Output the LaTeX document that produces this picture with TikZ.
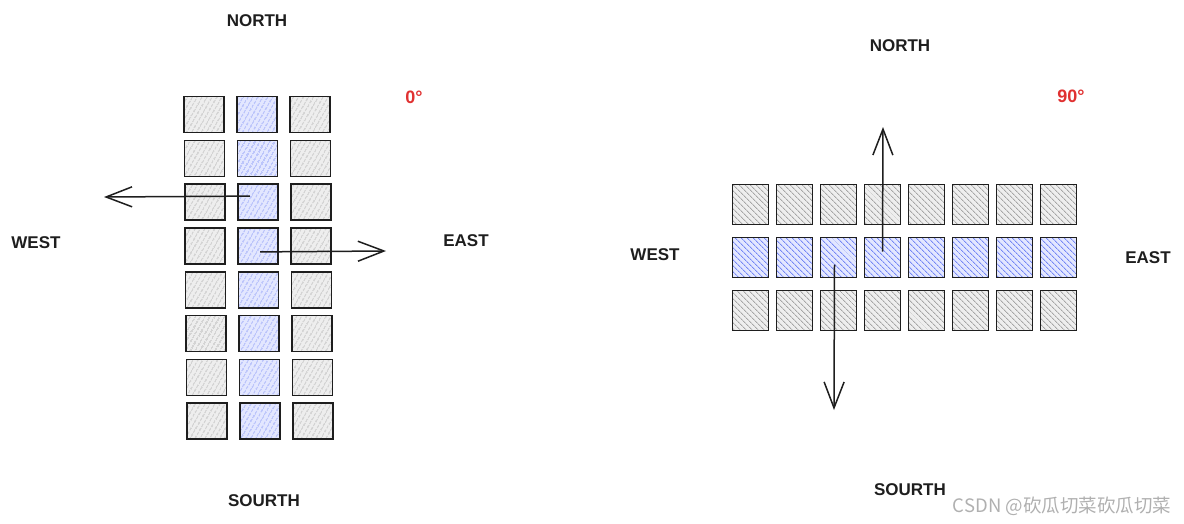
\documentclass[tikz,border=0pt]{standalone}
\usepackage{fontspec}
\setmainfont{Liberation Sans}
\newfontfamily\cjkfont{Noto Sans CJK SC}
\usetikzlibrary{arrows.meta,patterns.meta}
\definecolor{ink}{HTML}{1E1E1E}
\definecolor{gline}{HTML}{A6A6A6}
\definecolor{gtint}{HTML}{EEEEEE}
\definecolor{bline}{HTML}{7587F5}
\definecolor{btint}{HTML}{E3E7FF}
\definecolor{degred}{HTML}{E03131}
\definecolor{wmark}{HTML}{B0B0B0}
\tikzset{
  cell/.style={draw=ink, line width=1.6pt, inner sep=0pt},
  lcell/.style={cell, minimum width=40pt, minimum height=36pt},
  rcell/.style={cell, minimum width=36pt, minimum height=40pt},
  lg/.style={lcell, preaction={fill=gtint}, pattern={Lines[angle=60,distance=4pt,line width=0.9pt]}, pattern color=gline},
  lb/.style={lcell, preaction={fill=btint}, pattern={Lines[angle=60,distance=4pt,line width=0.9pt]}, pattern color=bline},
  rg/.style={rcell, preaction={fill=gtint}, pattern={Lines[angle=-45,distance=4pt,line width=0.9pt]}, pattern color=gline},
  rb/.style={rcell, preaction={fill=btint}, pattern={Lines[angle=-45,distance=4pt,line width=0.9pt]}, pattern color=bline},
  lbl/.style={font=\fontsize{17}{20}\selectfont\bfseries, text=ink, inner sep=0pt},
  deg/.style={font=\fontsize{18}{20}\selectfont\bfseries, text=degred, inner sep=0pt},
  arr/.style={draw=ink, line width=1.5pt, -{Straight Barb[length=26pt,width=20pt,line width=1.5pt]}},
}
\begin{document}
\begin{tikzpicture}[x=1pt,y=-1pt]
\useasboundingbox (0,0) rectangle (1184,523);
% ---------- left (0 degrees) ----------
\foreach \r in {1,...,8}{
  \foreach \c/\s in {1/lg,2/lb,3/lg}{
    \node[\s] (L-\r-\c) at ({204+53*(\c-1)+0.4*(\r-1)},{114.5+43.8*(\r-1)}) {};
  }
}
\node[lbl] (lnorth) at (257,21) {NORTH};
\node[lbl] (lsouth) at (264,501) {SOURTH};
\node[lbl] (lwest) at (36,243) {WEST};
\node[lbl] (least) at (466,241) {EAST};
\node[deg] (ldeg) at (414,97) {0°};
\coordinate (wtip) at (104,197);
\coordinate (etip) at (386,251);
\draw[arr] ([shift={(-8,-6)}]L-3-2.center) -- (wtip);
\draw[arr] ([shift={(2,6)}]L-4-2.center) -- (etip);
% ---------- right (90 degrees) ----------
\foreach \c in {1,...,8}{
  \foreach \r/\s in {1/rg,2/rb,3/rg}{
    \node[\s] (R-\c-\r) at ({750.5+44*(\c-1)},{204.5+53*(\r-1)}) {};
  }
}
\node[lbl] (rnorth) at (900,46) {NORTH};
\node[lbl] (rsouth) at (910,490) {SOURTH};
\node[lbl] (rwest) at (655,255) {WEST};
\node[lbl] (reast) at (1148,258) {EAST};
\node[deg] (rdeg) at (1071,96) {90°};
\coordinate (ntip) at (883,127);
\coordinate (stip) at (834,410);
\draw[arr] ([shift={(0,-6)}]R-4-2.center) -- (ntip);
\draw[arr] ([shift={(-4,7)}]R-3-2.center) -- (stip);
% watermark
\node[font=\cjkfont\fontsize{18.5}{20}\selectfont, text=wmark, inner sep=0pt] (wm) at (1062,506) {CSDN @砍瓜切菜砍瓜切菜};
\end{tikzpicture}
\end{document}
